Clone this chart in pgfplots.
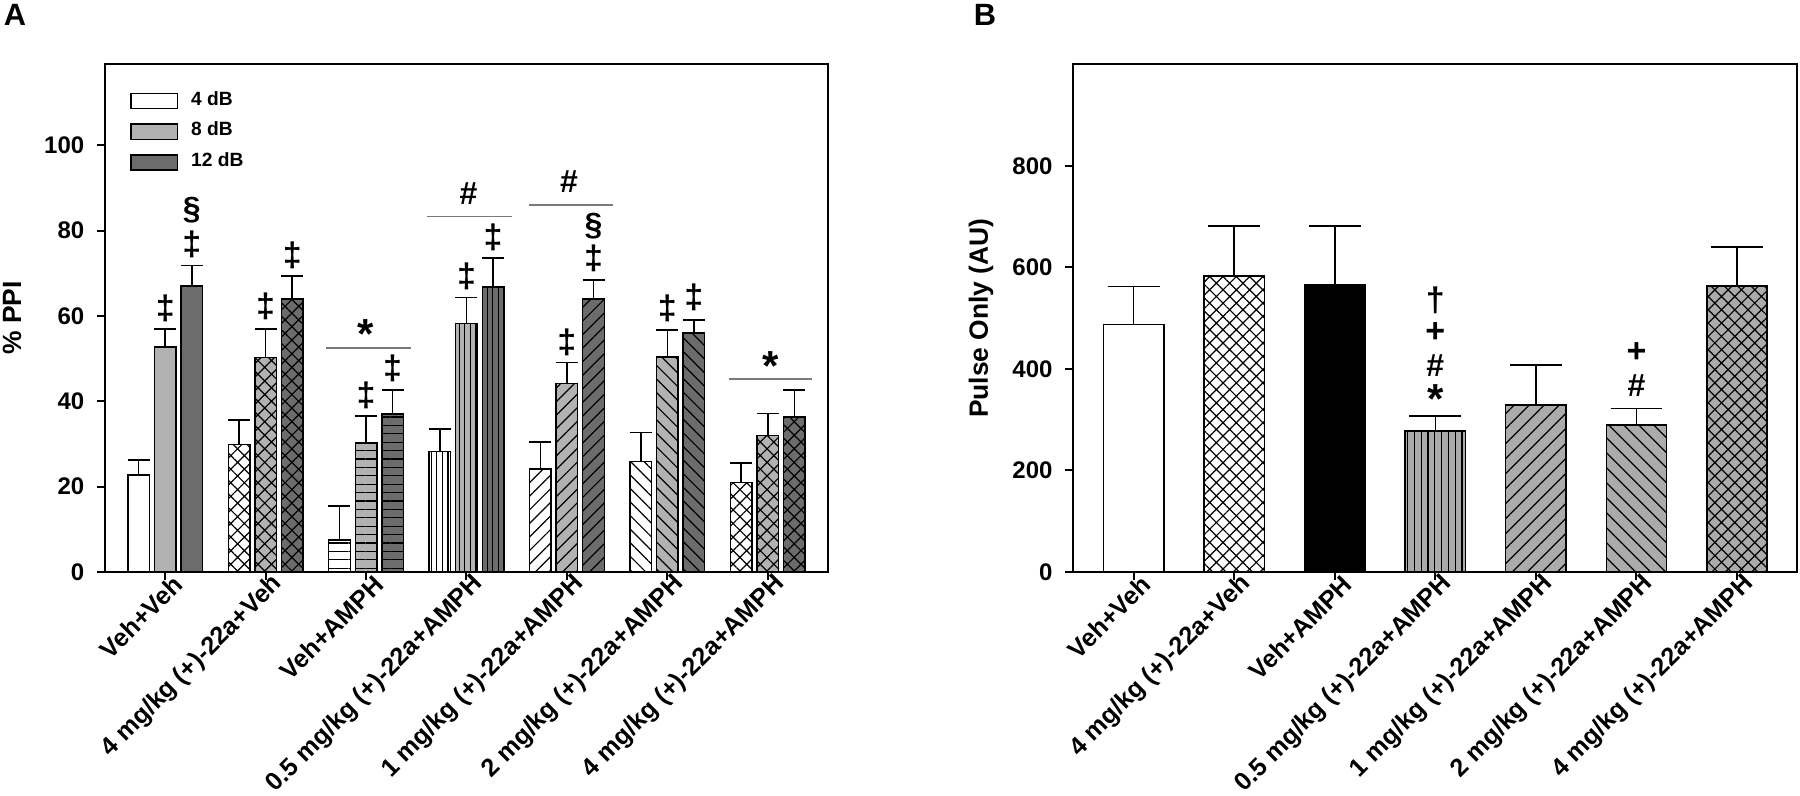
\documentclass[border=0pt]{standalone}
\usepackage{fontspec}
\setmainfont{Liberation Sans}
\usepackage{pgfplots}
\pgfplotsset{compat=1.18}
\usetikzlibrary{patterns.meta}

\definecolor{lg}{HTML}{B2B2B2}
\definecolor{dg}{HTML}{6C6C6C}
\definecolor{bg}{HTML}{ABABAB}
\definecolor{sig}{HTML}{7A7A7A}

\newcommand\fsz[1]{\fontsize{#1}{#1}\selectfont\bfseries}

\tikzset{
  pcross/.style={postaction={pattern={Hatch[angle=45,distance=#1,line width=0.3pt]},pattern color=black}},
  phor/.style={postaction={pattern={Lines[angle=0,distance=#1,line width=0.3pt]},pattern color=black}},
  pver/.style={postaction={pattern={Lines[angle=90,distance=#1,line width=0.3pt]},pattern color=black}},
  pne/.style={postaction={pattern={Lines[angle=45,distance=#1,line width=0.3pt]},pattern color=black}},
  pnw/.style={postaction={pattern={Lines[angle=-45,distance=#1,line width=0.3pt]},pattern color=black}},
}

\pgfplotsset{
  commonax/.style={
    scale only axis, anchor=south west,
    xmin=-0.6, xmax=6.6, ymin=0,
    axis line style={line width=0.5pt},
    tick align=outside, tick pos=left,
    major tick length=2pt,
    tick style={line width=0.5pt, black},
    xtick={0,...,6},
    xticklabels={Veh+Veh, 4 mg/kg (+)-22a+Veh, Veh+AMPH, 0.5 mg/kg (+)-22a+AMPH, 1 mg/kg (+)-22a+AMPH, 2 mg/kg (+)-22a+AMPH, 4 mg/kg (+)-22a+AMPH},
    xticklabel style={font=\fsz{6.3}, inner sep=0pt, xshift=3.3pt, yshift=0pt, rotate=45, anchor=east},
    yticklabel style={font=\fsz{6}, inner sep=0pt, xshift=-3pt},
    /pgf/number format/assume math mode=true,
    ylabel style={font=\fsz{6.6}},
    clip=false,
  },
  barA/.style={ybar, bar width=0.215, bar shift=0, draw=black, line width=0.35pt, forget plot,
    error bars/y dir=plus, error bars/y explicit,
    error bars/error bar style={line width=0.4pt, black, solid},
    error bars/error mark options={rotate=90, black, line width=0.4pt, mark size=2.75pt}},
  barB/.style={ybar, bar width=0.6, bar shift=0, draw=black, line width=0.35pt, forget plot,
    error bars/y dir=plus, error bars/y explicit,
    error bars/error bar style={line width=0.4pt, black, solid},
    error bars/error mark options={rotate=90, black, line width=0.4pt, mark size=6.46pt}},
  legend image code/.code={\draw[#1, line width=0.35pt] (0pt,-1.9pt) rectangle (11.7pt,1.9pt);},
}

\begin{document}
\begin{tikzpicture}
\path[use as bounding box] (0,0) rectangle (450pt,198.75pt);

\node[anchor=base west, font=\fsz{7.7}, inner sep=0pt] at (0.75pt,192.5pt) {A};
\node[anchor=base west, font=\fsz{7.7}, inner sep=0pt] at (243.25pt,192.5pt) {B};

% ---------------- Panel A ----------------
\begin{axis}[commonax, at={(26.25pt,55.78pt)}, width=180.75pt, height=126.9pt,
  ymax=119, ytick={0,20,...,100},
  ylabel={\% PPI}, ylabel style={at={(axis description cs:-0.1286,0.5)}, anchor=center},
  legend style={draw=none, fill=none, font=\fsz{4.8}, inner sep=0pt, row sep=1.5pt,
    nodes={inner sep=0.6pt}, at={(axis description cs:0,1)}, anchor=north west,
    xshift=6.1pt, yshift=-5.9pt},
  legend cell align=left,
  legend columns=1]
\addlegendimage{fill=white}
\addlegendentry{\hspace{2.6pt}4 dB}
\addlegendimage{fill=lg}
\addlegendentry{\hspace{2.6pt}8 dB}
\addlegendimage{fill=dg}
\addlegendentry{\hspace{2.6pt}12 dB}

% Veh+Veh
\addplot[barA, fill=white] coordinates {(-0.265,22.73) +- (0,3.52)};
\addplot[barA, fill=lg] coordinates {(0,52.7) +- (0,4.2)};
\addplot[barA, fill=dg] coordinates {(0.265,67.07) +- (0,4.73)};
% 4 mg/kg + Veh
\addplot[barA, fill=white, pcross=2.4pt] coordinates {(0.735,29.9) +- (0,5.7)};
\addplot[barA, fill=lg, pcross=2.4pt] coordinates {(1,50.3) +- (0,6.6)};
\addplot[barA, fill=dg, pcross=2.4pt] coordinates {(1.265,64.0) +- (0,5.4)};
% Veh + AMPH
\addplot[barA, fill=white, phor=2.1pt] coordinates {(1.735,7.5) +- (0,8.0)};
\addplot[barA, fill=lg, phor=2.1pt] coordinates {(2,30.2) +- (0,6.4)};
\addplot[barA, fill=dg, phor=2.1pt] coordinates {(2.265,37.0) +- (0,5.7)};
% 0.5 mg/kg
\addplot[barA, fill=white, pver=1.4pt] coordinates {(2.735,28.2) +- (0,5.3)};
\addplot[barA, fill=lg, pver=1.4pt] coordinates {(3,58.3) +- (0,6.0)};
\addplot[barA, fill=dg, pver=1.4pt] coordinates {(3.265,66.8) +- (0,6.8)};
% 1 mg/kg
\addplot[barA, fill=white, pne=2.4pt] coordinates {(3.735,24.1) +- (0,6.4)};
\addplot[barA, fill=lg, pne=2.4pt] coordinates {(4,44.2) +- (0,4.9)};
\addplot[barA, fill=dg, pne=2.4pt] coordinates {(4.265,64.0) +- (0,4.4)};
% 2 mg/kg
\addplot[barA, fill=white, pnw=2.4pt] coordinates {(4.735,25.9) +- (0,6.8)};
\addplot[barA, fill=lg, pnw=2.4pt] coordinates {(5,50.4) +- (0,6.3)};
\addplot[barA, fill=dg, pnw=2.4pt] coordinates {(5.265,56.0) +- (0,3.1)};
% 4 mg/kg + AMPH
\addplot[barA, fill=white, pcross=2.4pt] coordinates {(5.735,20.9) +- (0,4.6)};
\addplot[barA, fill=lg, pcross=2.4pt] coordinates {(6,32.0) +- (0,5.1)};
\addplot[barA, fill=dg, pcross=2.4pt] coordinates {(6.265,36.3) +- (0,6.4)};

% annotations
\node[font=\fsz{8.5}] at (axis cs:0,61.8) {‡};
\node[font=\fsz{8.5}] at (axis cs:0.265,76.8) {‡};
\node[font=\fsz{8}] at (axis cs:0.265,84.9) {§};
\node[font=\fsz{8.5}] at (axis cs:1,62.2) {‡};
\node[font=\fsz{8.5}] at (axis cs:1.265,74.3) {‡};
\node[font=\fsz{8.5}] at (axis cs:2,41.5) {‡};
\node[font=\fsz{8.5}] at (axis cs:2.265,47.8) {‡};
\node[font=\fsz{10.5}] at (axis cs:2,55.8) {*};
\draw[sig, line width=0.45pt] (axis cs:1.60,52.4) -- (axis cs:2.45,52.4);
\node[font=\fsz{8.5}] at (axis cs:3,69.3) {‡};
\node[font=\fsz{8.5}] at (axis cs:3.265,78.5) {‡};
\node[font=\fsz{8}] at (axis cs:3.02,88.8) {\#};
\draw[sig, line width=0.45pt] (axis cs:2.61,83.3) -- (axis cs:3.45,83.3);
\node[font=\fsz{8.5}] at (axis cs:4,53.8) {‡};
\node[font=\fsz{8.5}] at (axis cs:4.265,73.6) {‡};
\node[font=\fsz{8}] at (axis cs:4.265,81.1) {§};
\node[font=\fsz{8}] at (axis cs:4.02,91.4) {\#};
\draw[sig, line width=0.45pt] (axis cs:3.62,86.1) -- (axis cs:4.46,86.1);
\node[font=\fsz{8.5}] at (axis cs:5,61.8) {‡};
\node[font=\fsz{8.5}] at (axis cs:5.265,64.3) {‡};
\node[font=\fsz{10.5}] at (axis cs:6.03,48.3) {*};
\draw[sig, line width=0.45pt] (axis cs:5.61,45.2) -- (axis cs:6.44,45.2);
\end{axis}

% ---------------- Panel B ----------------
\begin{axis}[commonax, at={(268.33pt,55.78pt)}, width=181pt, height=126.9pt,
  ymax=1000, ytick={0,200,...,800},
  ylabel={Pulse Only (AU)}, ylabel style={at={(axis description cs:-0.1275,0.5)}, anchor=center}]
\addplot[barB, fill=white] coordinates {(0,487.4) +- (0,74.9)};
\addplot[barB, fill=white, pcross=2.35pt] coordinates {(1,583.3) +- (0,98.5)};
\addplot[barB, fill=black] coordinates {(2,564.9) +- (0,116.9)};
\addplot[barB, fill=bg, pver=1.7pt] coordinates {(3,277.8) +- (0,29.6)};
\addplot[barB, fill=bg, pne=2.65pt] coordinates {(4,328.5) +- (0,79.4)};
\addplot[barB, fill=bg, pnw=2.65pt] coordinates {(5,289.1) +- (0,32.8)};
\addplot[barB, fill=bg, pcross=2.35pt] coordinates {(6,563.6) +- (0,76.8)};

\node[font=\fsz{8.5}] at (axis cs:3,535) {†};
\node[font=\fsz{8.5}] at (axis cs:3,471.7) {+};
\node[font=\fsz{8}] at (axis cs:3,406) {\#};
\node[font=\fsz{10.5}] at (axis cs:3,340.3) {*};
\node[font=\fsz{8.5}] at (axis cs:5,432.2) {+};
\node[font=\fsz{8}] at (axis cs:5,366.5) {\#};
\end{axis}
\end{tikzpicture}
\end{document}
